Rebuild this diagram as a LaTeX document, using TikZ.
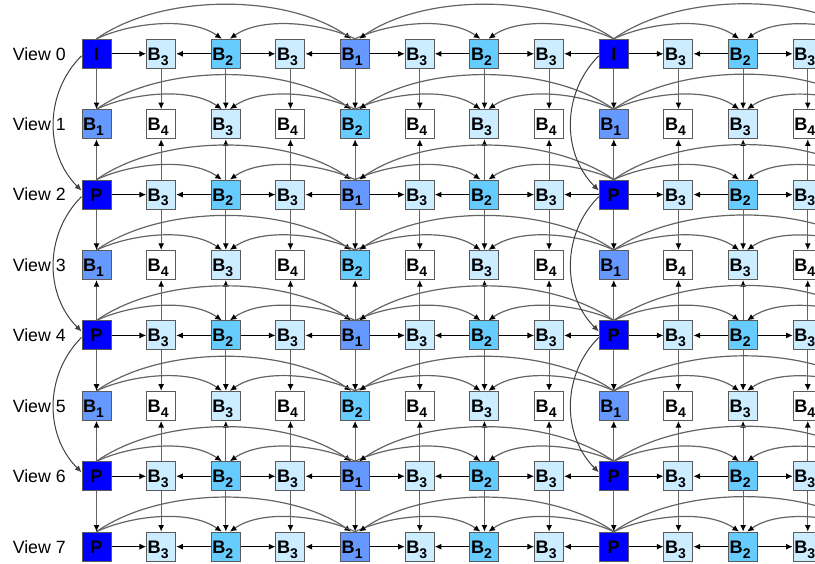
\documentclass[tikz,border=0pt]{standalone}
\usepackage{fontspec}
\setmainfont{Liberation Sans}
\usetikzlibrary{arrows.meta}
\definecolor{keycol}{RGB}{0,0,255}
\definecolor{lvonecol}{RGB}{102,153,255}
\definecolor{lvtwocol}{RGB}{102,204,255}
\definecolor{lvthreecol}{RGB}{204,236,255}
\definecolor{edgecol}{RGB}{90,90,90}
\definecolor{linkcol}{RGB}{100,100,100}

% frame label: I / P for key frames, B_k otherwise
\newcommand{\frmlab}[2]{\ifnum#2=0 \ifnum#1=0 I\else P\fi\else\kern-4.5pt B\raisebox{-3.6pt}{\fontsize{10.5pt}{11pt}\selectfont #2}\fi}

\begin{document}
\begin{tikzpicture}[x=0.75pt, y=0.75pt,
    frame/.style={rectangle, minimum size=21.75pt, inner sep=0pt, draw=edgecol, line width=0.75pt, font=\fontsize{13.6pt}{14pt}\selectfont\bfseries, text height=9.8pt, text depth=0pt},
    lv0/.style={frame, fill=keycol},
    lv1/.style={frame, fill=lvonecol},
    lv2/.style={frame, fill=lvtwocol},
    lv3/.style={frame, fill=lvthreecol},
    lv4/.style={frame, fill=white},
    view/.style={anchor=west, inner sep=0pt, font=\fontsize{13.3pt}{14pt}\selectfont, text height=9.5pt, text depth=0pt},
    hlink/.style={-{Latex[length=5pt,width=4.5pt]}, line width=0.75pt, black},
    vlink/.style={-{Latex[length=5pt,width=4.5pt,color=black]}, line width=0.9pt, draw=linkcol},
    arc/.style={-{Latex[length=5pt,width=4.5pt,color=black]}, line width=0.9pt, draw=linkcol},
    vlong/.style={-{Latex[length=5pt,width=4.5pt]}, line width=0.75pt, draw=black!75},
    loR/.style={out=25, in=145, looseness=0.8},
    loL/.style={out=155, in=35, looseness=0.8},
    hiR/.style={out=35, in=145, looseness=0.8},
    hiL/.style={out=145, in=35, looseness=0.8},
]
\useasboundingbox (0,0) rectangle (815,-564);
\clip (0,0) rectangle (815,-564);

% frames, one row per view (views 1, 3, 5 hold only B frames)
\foreach \r in {0,...,7}{
  \pgfmathsetmacro{\y}{-(53.8+70.41*\r)}
  \pgfmathtruncatemacro{\oddrow}{mod(\r,2)*(\r<7)}
  \node[view] (lab\r) at (12.5,\y) {View \r};
  \ifnum\oddrow=1
    \foreach \c/\k in {0/1,1/4,2/3,3/4,4/2,5/4,6/3,7/4,8/1,9/4,10/3,11/4}{
      \node[lv\k] (v\r-\c) at ({96.5+64.66*\c},\y) {\frmlab{\r}{\k}};
    }
  \else
    \foreach \c/\k in {0/0,1/3,2/2,3/3,4/1,5/3,6/2,7/3,8/0,9/3,10/2,11/3}{
      \node[lv\k] (v\r-\c) at ({96.5+64.66*\c},\y) {\frmlab{\r}{\k}};
    }
  \fi
}

% neighbour references inside a view
\foreach \r in {0,2,4,6,7}{
  \foreach \c in {1,3,...,11}{
    \pgfmathtruncatemacro{\a}{\c-1}
    \draw[hlink] (v\r-\a) -- (v\r-\c);
    \ifnum\c<11
      \pgfmathtruncatemacro{\b}{\c+1}
      \draw[hlink] (v\r-\b) -- (v\r-\c);
    \fi
  }
}

% references between views
\foreach \r in {0,2,4,6}{
  \foreach \c in {0,...,11}{
    \pgfmathtruncatemacro{\d}{\r+1}
    \draw[vlink] (v\r-\c) -- (v\d-\c);
    \ifnum\r>0
      \pgfmathtruncatemacro{\u}{\r-1}
      \draw[vlink] (v\r-\c) -- (v\u-\c);
    \fi
  }
}

% hierarchical B arcs over each view
\foreach \r in {0,...,7}{
  \pgfmathsetmacro{\y}{-(53.8+70.41*\r)}
  \coordinate (v\r-12) at ({96.5+64.66*12},{\y+14.5});
  \foreach \s/\t/\sty/\dx in {0/2/loR/-3, 0/4/hiR/-3, 4/2/loL/3, 4/6/loR/-3, 8/4/hiL/3, 8/6/loL/3, 8/10/loR/-3}{
    \draw[arc, \sty] (v\r-\s.north) to ([xshift=\dx pt]v\r-\t.north);
  }
  \draw[arc, hiR] (v\r-8.north) to (v\r-12);
  \draw[arc, loL] (v\r-12) to ([xshift=3pt]v\r-10.north);
}

% key frames predicted across two views
\foreach \c in {0,8}{
  \foreach \r/\n in {0/2,2/4,4/6}{
    \draw[vlong] ([yshift=-1.5pt]v\r-\c.west) to[out=225, in=135] ([yshift=3pt]v\n-\c.west);
  }
}
\end{tikzpicture}
\end{document}
